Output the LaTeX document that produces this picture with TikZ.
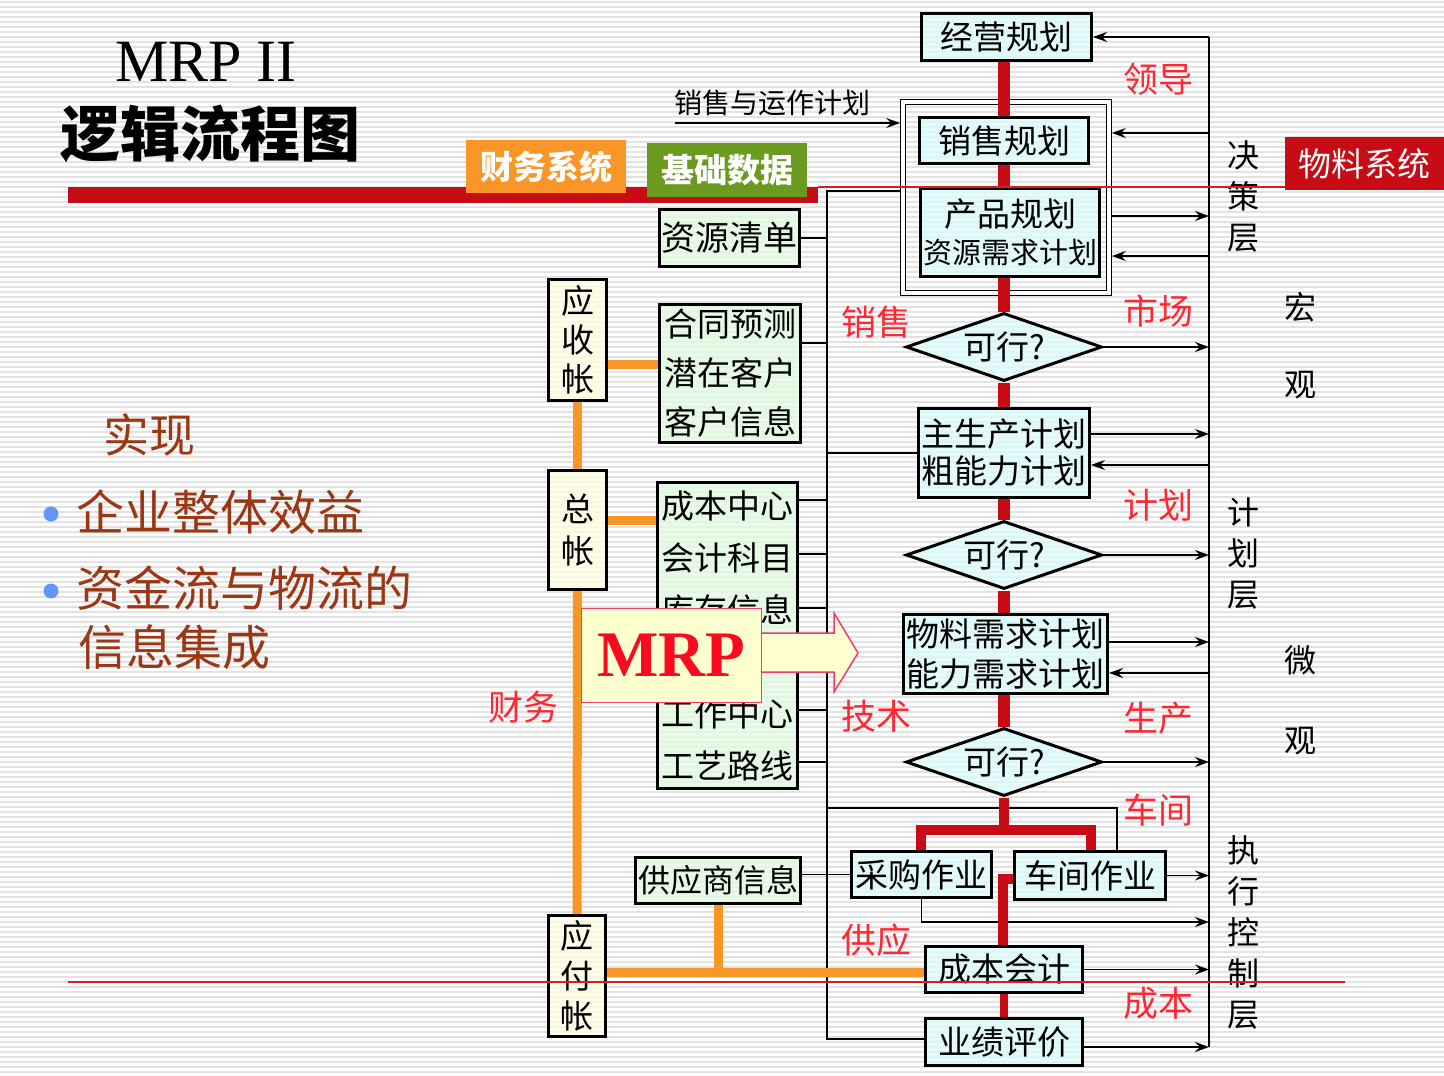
\documentclass[tikz,border=0pt]{standalone}
\usepackage{fontspec}
\setmainfont{Liberation Serif}
\newfontfamily\cjk{Noto Sans CJK SC}
\usetikzlibrary{arrows.meta,shapes.geometric}

\definecolor{stripe}{RGB}{226,226,226}
\definecolor{boxcyan}{RGB}{222,250,250}
\definecolor{boxgreen}{RGB}{226,250,226}
\definecolor{boxyellow}{RGB}{255,253,225}
\definecolor{mrpfill}{RGB}{255,255,208}
\definecolor{mrpedge}{RGB}{240,60,110}
\definecolor{mrpred}{RGB}{250,10,30}
\definecolor{trunkred}{RGB}{200,12,22}
\definecolor{labelred}{RGB}{255,40,50}
\definecolor{guidered}{RGB}{215,30,40}
\definecolor{finorange}{RGB}{248,150,40}
\definecolor{basegreen}{RGB}{106,154,30}
\definecolor{textbrown}{RGB}{155,55,20}
\definecolor{bulletblue}{RGB}{100,150,250}

\newcommand\fs[2]{\fontsize{#1}{#2}\selectfont}

\tikzset{
  planbox/.style={draw=black, line width=3, fill=boxcyan, fill opacity=0.8,
    text opacity=1, inner sep=0, align=center, font=\cjk\fs{33}{37}},
  databox/.style={planbox, fill=boxgreen},
  acctbox/.style={planbox, fill=boxyellow},
  check/.style={diamond, draw=black, line width=3, fill=boxcyan, fill opacity=0.8,
    text opacity=1, aspect=2.9, inner sep=0, minimum width=196,
    minimum height=68, font=\cjk\fs{33}{37}},
  link/.style={line width=1.5, draw=black},
  arr/.style={link, -{Stealth[length=14pt,width=10pt,inset=5pt]}},
  trunk/.style={line width=12, draw=trunkred},
  feed/.style={line width=9, draw=finorange},
  guide/.style={line width=1.2, draw=guidered},
  redtag/.style={text=labelred, inner sep=0, font=\cjk\fs{35}{40}},
  layertag/.style={inner sep=0, align=center, font=\cjk\fs{32}{41}},
  sysband/.style={text=white, inner sep=0, font=\cjk\fs{33}{40}},
  leadtext/.style={text=textbrown, inner sep=0, font=\cjk\fs{48}{58}},
}

\begin{document}
\begin{tikzpicture}[x=1pt,y=-1pt]
\useasboundingbox (0,0) rectangle (1444,1076);

% striped background
\fill[white] (0,0) rectangle (1444,1076);
\foreach \y in {2,7,...,1076}
  \draw[stripe, line width=1.8] (0,\y) -- (1444,\y);

% title and header band
\node[inner sep=0, font=\fs{60}{64}] (mrptitle) at (206,62) {MRP II};
\node[inner sep=0, font=\cjk\bfseries\fs{60}{64}] (lctitle) at (210,134) {逻辑流程图};
\fill[trunkred] (68,187) rectangle (818,203);
\node[sysband, fill=finorange, minimum width=160, minimum height=53] (cwxt) at (546,166.5) {\bfseries 财务系统};
\node[sysband, fill=basegreen, minimum width=160, minimum height=54] (jcsj) at (727,170) {\bfseries 基础数据};
\node[sysband, fill=trunkred, minimum width=159, minimum height=53] (wlxt) at (1364.5,163.5) {物料系统};

% left-hand summary
\node[text=textbrown, inner sep=0, font=\cjk\fs{46}{50}] (shixian) at (149,435) {实现};
\node[circle, fill=bulletblue, minimum size=15, inner sep=0] (dot1) at (51,514) {};
\node[circle, fill=bulletblue, minimum size=15, inner sep=0] (dot2) at (51,591) {};
\node[leadtext, anchor=west] (goal1) at (76,512) {企业整体效益};
\node[leadtext, anchor=west] (goal2) at (76,588) {资金流与物流的};
\node[leadtext, anchor=west] (goal3) at (78,647) {信息集成};

% planning chain
\node[draw=black, double, double distance=3.2, line width=1.3, outer sep=2.9,
      minimum width=206, minimum height=191, inner sep=0] (frame) at (1006,197.5) {};
\node[planbox, minimum width=170, minimum height=47] (jy) at (1006.5,37) {经营规划};
\node[planbox, minimum width=169, minimum height=46] (xs) at (1004,140.5) {销售规划};
\node[planbox, minimum width=179, minimum height=88] (cp) at (1010,232.5) {产品规划\\{\fs{29}{37}资源需求计划}};
\node[check] (d1) at (1004,347) {可行?};
\node[planbox, minimum width=171, minimum height=89] (zsc) at (1004,453) {主生产计划\\粗能力计划};
\node[check] (d2) at (1004,555) {可行?};
\node[planbox, minimum width=204, minimum height=79, font=\cjk\fs{33}{40}] (wl) at (1005.5,654) {物料需求计划\\能力需求计划};
\node[check] (d3) at (1004,762) {可行?};
\node[planbox, minimum width=140, minimum height=46] (cg) at (921.5,874.5) {采购作业};
\node[planbox, minimum width=151, minimum height=48] (cj) at (1090,875.5) {车间作业};
\node[planbox, minimum width=157, minimum height=46] (ckj) at (1004,969.5) {成本会计};
\node[planbox, minimum width=157, minimum height=47] (yjpj) at (1004,1042) {业绩评价};

% base data
\node[databox, minimum width=140, minimum height=57, font=\cjk\fs{34}{40}] (zyqd) at (729.5,238) {资源清单};
\node[databox, minimum width=141, minimum height=138, font=\cjk\fs{33}{49}] (kh) at (730,373.5) {合同预测\\潜在客户\\客户信息};
\node[databox, minimum width=140, minimum height=306, font=\cjk\fs{33}{52}] (jc) at (727.5,635.5) {成本中心\\会计科目\\库存信息\\\mbox{}\\工作中心\\工艺路线};
\node[databox, minimum width=165, minimum height=46, font=\cjk\fs{32}{40}] (gys) at (718,880.5) {供应商信息};

% accounts
\node[acctbox, minimum width=58, minimum height=121, font=\cjk\fs{33}{39}] (ysz) at (577.5,340) {应\\收\\帐};
\node[acctbox, minimum width=58, minimum height=119, font=\cjk\fs{33}{42}] (zz) at (577.5,530) {总\\帐};
\node[acctbox, minimum width=57, minimum height=121, font=\cjk\fs{33}{40}] (yfz) at (577,976) {应\\付\\帐};

% red area labels
\node[redtag] (t1) at (1158,79) {领导};
\node[redtag] (t2) at (1158,311) {市场};
\node[redtag] (t3) at (1158,505) {计划};
\node[redtag] (t4) at (1158,718) {生产};
\node[redtag] (t5) at (1158,810) {车间};
\node[redtag] (t6) at (1158,1003) {成本};
\node[redtag] (t7) at (876,322) {销售};
\node[redtag] (t8) at (876,716) {技术};
\node[redtag] (t9) at (876,940) {供应};
\node[redtag] (t10) at (523,707) {财务};

% management levels
\node[layertag] (lv1) at (1243,197) {决\\策\\层};
\node[layertag] (lv2) at (1243,554) {计\\划\\层};
\node[layertag] (lv3) at (1243,932) {执\\行\\控\\制\\层};
\node[layertag, font=\cjk\fs{32}{77}] (macro) at (1300,345.5) {宏\\观};
\node[layertag, font=\cjk\fs{32}{80}] (micro) at (1300,700) {微\\观};

% feedback bus on the right
\coordinate (rtop) at (1209,37);
\coordinate (outYJ) at (1209,1047);
\coordinate (inXS) at (1209,133);
\coordinate (outCP) at (1209,216);
\coordinate (inCP) at (1209,256);
\coordinate (outZSC) at (1209,434);
\coordinate (inZSC) at (1209,465);
\coordinate (outWL) at (1209,642);
\coordinate (inWL) at (1209,673);
\coordinate (outCG) at (1209,922);
\draw[link, line width=1.8] (rtop) -- (outYJ);
\draw[arr] (rtop) -- (jy.east);
\draw[arr] (inXS) -- (inXS -| frame.east);
\draw[arr] (outCP -| frame.east) -- (outCP);
\draw[arr] (inCP) -- (inCP -| frame.east);
\draw[arr] (d1.east) -- (d1.east -| rtop);
\draw[arr] (outZSC -| zsc.east) -- (outZSC);
\draw[arr] (inZSC) -- (inZSC -| zsc.east);
\draw[arr] (d2.east) -- (d2.east -| rtop);
\draw[arr] (outWL -| wl.east) -- (outWL);
\draw[arr] (inWL) -- (inWL -| wl.east);
\draw[arr] (d3.east) -- (d3.east -| rtop);
\draw[arr] (cj.east) -- (cj.east -| rtop);
\draw[arr] (cg.south) |- (outCG);
\draw[arr] (ckj.east) -- (ckj.east -| rtop);
\draw[arr] (outYJ -| yjpj.east) -- (outYJ);

% sales and operations planning input
\coordinate (sop) at (675,123);
\node[inner sep=0, font=\cjk\fs{28}{32}] (soplabel) at (772,103) {销售与运作计划};
\draw[arr] (sop) -- (sop -| frame.west);

% data bus on the left
\coordinate (ltop) at (827,191);
\coordinate (lbot) at (827,1039);
\draw[link] (ltop -| frame.west) -- (ltop) -- (lbot) -- (lbot -| yjpj.west);
\draw[link] (zyqd.east) -- (zyqd.east -| ltop);
\coordinate (tickKH) at (827,343);
\draw[link] (tickKH -| kh.east) -- (tickKH);
\coordinate (tapZSC) at (827,453);
\draw[link] (tapZSC) -- (tapZSC -| zsc.west);
\foreach \t [count=\i] in {500,554,608,710,762} {
  \coordinate (jct\i) at (827,\t);
  \draw[link] (jct\i -| jc.east) -- (jct\i);
}
\coordinate (cjtap) at (1117,808);
\draw[link] (cjtap -| ltop) -- (cjtap) -- (cjtap |- cj.north);
\draw[link] (gys.east |- cg.west) -- (cg.west);

% finance links
\coordinate (feedKH) at (608,364);
\coordinate (feedJC) at (608,520);
\coordinate (feedCK) at (716,972);
\draw[feed] (feedKH -| ysz.east) -- (feedKH -| kh.west);
\draw[feed] (ysz.south) -- (zz.north);
\draw[feed] (feedJC -| zz.east) -- (feedJC -| jc.west);
\draw[feed] (zz.south) -- (yfz.north);
\draw[feed] (feedCK -| yfz.east) -- (feedCK -| ckj.west);
\draw[feed] (gys.south) -- (gys.south |- feedCK);

% main planning trunk
\coordinate (axis) at (1004,0);
\draw[trunk] (jy.south -| axis) -- (xs.north -| axis);
\draw[trunk] (xs.south -| axis) -- (cp.north -| axis);
\draw[trunk] (cp.south -| axis) -- (d1.north);
\draw[trunk] (d1.south) -- (zsc.north);
\draw[trunk] (zsc.south) -- (d2.north);
\draw[trunk] (d2.south) -- (wl.north -| axis);
\draw[trunk] (wl.south -| axis) -- (d3.north);
\coordinate (brL) at (921,830);
\coordinate (brR) at (1091,830);
\draw[trunk, line width=10] (d3.south) -- (d3.south |- brL);
\draw[trunk, line width=10] (cg.north -| brL) -- (brL) -- (brR) -- (cj.north -| brR);
\coordinate (cjck) at (1003,879);
\draw[trunk, line width=10] (cjck -| cj.west) -- (cjck) -- (cjck |- ckj.north);
\draw[trunk, line width=8] (ckj.south) -- (yjpj.north);

% MRP block arrow and label
\draw[draw=mrpedge, fill=mrpfill, line width=1.5]
  (760,633) -- (834,633) -- (834,613) -- (858,653) -- (834,692) -- (834,672) -- (760,672) -- cycle;
\node[draw=mrpedge, line width=1.5, fill=mrpfill, minimum width=180, minimum height=94,
      inner sep=0, text=mrpred, font=\bfseries\fs{65}{70}] (mrp) at (671.5,655.5) {MRP};

% thin guide lines
\coordinate (guideTop) at (818,187);
\draw[guide] (guideTop) -- (guideTop -| wlxt.west);
\coordinate (guideL) at (68,982);
\coordinate (guideR) at (1345,982);
\draw[guide] (guideL) -- (guideR);
\end{tikzpicture}
\end{document}
